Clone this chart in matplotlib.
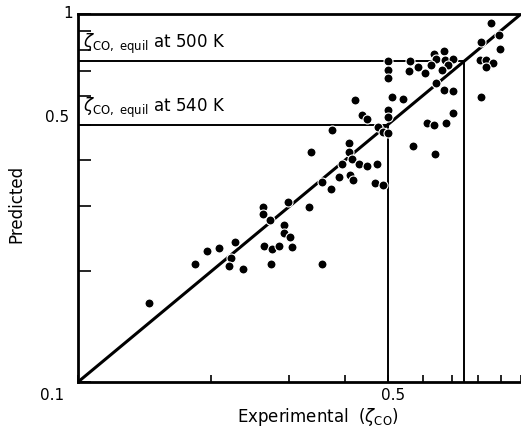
import matplotlib
matplotlib.use("Agg")
import matplotlib.pyplot as plt
import numpy as np

# experimental vs predicted zeta_CO
experimental = [0.856, 0.894, 0.811, 0.896, 0.636, 0.671, 0.644, 0.675, 0.704, 0.686,
                0.663, 0.625, 0.606, 0.584, 0.562, 0.559, 0.501, 0.501, 0.501, 0.807,
                0.832, 0.864, 0.832, 0.644, 0.669, 0.704, 0.814, 0.422, 0.511, 0.541,
                0.437, 0.448, 0.501, 0.501, 0.701, 0.614, 0.636, 0.678, 0.374, 0.476,
                0.488, 0.501, 0.336, 0.410, 0.569, 0.641, 0.410, 0.415, 0.395, 0.430,
                0.448, 0.472, 0.389, 0.412, 0.417, 0.356, 0.372, 0.468, 0.488, 0.298,
                0.332, 0.262, 0.262, 0.271, 0.292, 0.292, 0.301, 0.263, 0.274, 0.285,
                0.304, 0.272, 0.355, 0.226, 0.208, 0.196, 0.184, 0.221, 0.219, 0.236,
                0.145]
predicted = [0.943, 0.877, 0.841, 0.802, 0.779, 0.795, 0.753, 0.750, 0.753, 0.727,
             0.704, 0.727, 0.693, 0.719, 0.745, 0.700, 0.745, 0.704, 0.669, 0.750,
             0.750, 0.737, 0.719, 0.651, 0.622, 0.619, 0.596, 0.584, 0.594, 0.586,
             0.532, 0.517, 0.548, 0.526, 0.537, 0.507, 0.499, 0.507, 0.484, 0.494,
             0.479, 0.474, 0.422, 0.447, 0.438, 0.416, 0.422, 0.403, 0.390, 0.390,
             0.386, 0.390, 0.361, 0.365, 0.355, 0.350, 0.334, 0.348, 0.343, 0.309,
             0.299, 0.299, 0.286, 0.275, 0.267, 0.254, 0.247, 0.234, 0.230, 0.234,
             0.233, 0.209, 0.209, 0.240, 0.232, 0.227, 0.209, 0.217, 0.206, 0.203,
             0.164]

equil_values = [0.745, 0.5]
equil_labels = ["500 K", "540 K"]
tick_values = [0.1, 0.2, 0.3, 0.4, 0.5, 0.6, 0.7, 0.8, 0.9, 1.0]

fig = plt.figure(figsize=(5.21, 4.29), dpi=100)
ax = fig.add_axes([78 / 521, 47 / 429, 443 / 521, 368 / 429])
ax.set_xscale("log")
ax.set_yscale("log")
ax.set_xlim(0.1, 0.962)
ax.set_ylim(0.1, 1.0)

# parity line
ax.plot([0.1, 1.0], [0.1, 1.0], color="black", lw=2.2, zorder=2)

# equilibrium guide lines
for v, lab in zip(equil_values, equil_labels):
    ax.plot([0.1, v], [v, v], color="black", lw=1.4, zorder=1)
    ax.plot([v, v], [0.1, v], color="black", lw=1.4, zorder=1)
    ax.text(0.1025, v * 1.03, r"$\zeta_{\mathrm{CO,\ equil}}$ at " + lab,
            fontsize=12, ha="left", va="bottom")

ax.plot(experimental, predicted, "o", color="black", ms=6.5,
        markeredgecolor="white", markeredgewidth=0.8, zorder=3)

ax.set_xticks(tick_values)
ax.set_yticks(tick_values)
ax.xaxis.set_minor_locator(plt.NullLocator())
ax.yaxis.set_minor_locator(plt.NullLocator())
ax.set_xticklabels([])
ax.set_yticklabels([])
ax.tick_params(axis="x", direction="in", length=5, width=1.2)
ax.tick_params(axis="y", direction="in", length=9, width=1.2)
ax.spines["right"].set_visible(False)
for s in ["left", "bottom", "top"]:
    ax.spines[s].set_linewidth(2)

# tick labels placed as in the original drawing
fig.text(52 / 521, 1 - 396 / 429, "0.1", fontsize=11, ha="center", va="center")
fig.text(393 / 521, 1 - 396 / 429, "0.5", fontsize=11, ha="center", va="center")
fig.text(57 / 521, 1 - 118 / 429, "0.5", fontsize=11, ha="center", va="center")
fig.text(68 / 521, 1 - 14 / 429, "1", fontsize=11, ha="center", va="center")

fig.text(318 / 521, 1 - 417 / 429, r"Experimental  ($\zeta_{\mathrm{CO}}$)",
         fontsize=12, ha="center", va="center")
fig.text(16 / 521, 1 - 204 / 429, "Predicted", fontsize=12, rotation=90,
         ha="center", va="center")

fig.savefig("out.png", dpi=100)
